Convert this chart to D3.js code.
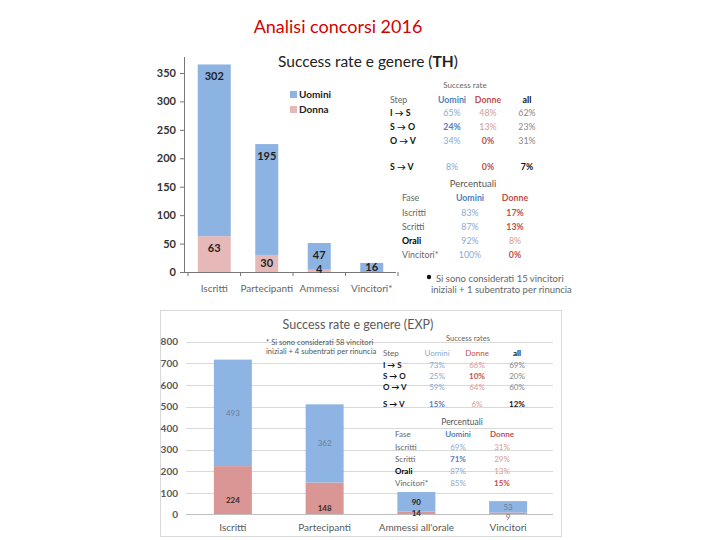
<!DOCTYPE html>
<html><head><meta charset="utf-8">
<script src="https://cdn.jsdelivr.net/npm/d3@7"></script>
<style>body{margin:0;background:#fff}svg{display:block;font-family:Lato,"Open Sans",sans-serif}</style>
</head><body><svg id="c" width="720" height="540"></svg>
<script>
// ---- data ----
const mainTitle = "Analisi concorsi 2016";
const categoriesTH = ["Iscritti", "Partecipanti", "Ammessi", "Vincitori*"];
const uominiTH = [302, 195, 47, 16];
const donneTH = [63, 30, 4, 0];
const ticksTH = [0, 50, 100, 150, 200, 250, 300, 350];
const seriesNamesTH = ["Uomini", "Donna"];

const categoriesEXP = ["Iscritti", "Partecipanti", "Ammessi all'orale", "Vincitori"];
const uominiEXP = [493, 362, 90, 53];
const donneEXP = [224, 148, 14, 9];
const ticksEXP = [0, 100, 200, 300, 400, 500, 600, 700, 800];

const steps = ["I \u2192 S", "S \u2192 O", "O \u2192 V", "S \u2192 V"];
const rateUominiTH = ["65%", "24%", "34%", "8%"];
const rateDonneTH = ["48%", "13%", "0%", "0%"];
const rateAllTH = ["62%", "23%", "31%", "7%"];
const fasi = ["Iscritti", "Scritti", "Orali", "Vincitori*"];
const percUominiTH = ["83%", "87%", "92%", "100%"];
const percDonneTH = ["17%", "13%", "8%", "0%"];
const noteTH = ["Si sono considerati 15 vincitori", "iniziali + 1 subentrato per rinuncia"];

const rateUominiEXP = ["73%", "25%", "59%", "15%"];
const rateDonneEXP = ["66%", "10%", "64%", "6%"];
const rateAllEXP = ["69%", "20%", "60%", "12%"];
const percUominiEXP = ["69%", "71%", "87%", "85%"];
const percDonneEXP = ["31%", "29%", "13%", "15%"];
const noteEXP = ["* Si sono considerati 58 vincitori", "iniziali + 4 subentrati per rinuncia"];

// ---- drawing ----
const svg = d3.select("#c");
svg.append("rect").attr("width", 720).attr("height", 540).attr("fill", "#fff");

svg.append("text").attr("x", 338).attr("y", 33).attr("text-anchor", "middle")
  .attr("font-size", 18).attr("fill", "#d40000").text(mainTitle);

// ===== Chart TH =====
const c1 = {blue: "#8db3e2", pink: "#e6b9b8"};
const y1 = d3.scaleLinear().domain([0, 350]).range([272, 73]);
const x1 = d3.scaleBand().domain(categoriesTH).range([188, 398]);
const g1 = svg.append("g");
const w1 = i => i === 0 ? 33 : 23;

const thData = categoriesTH.map((c, i) => ({c, i, u: uominiTH[i], d: donneTH[i]}));
thData.forEach(o => {
  const cx = x1(o.c) + x1.bandwidth() / 2, w = w1(o.i);
  g1.append("rect").attr("x", cx - w / 2).attr("width", w)
    .attr("y", y1(o.d)).attr("height", y1(0) - y1(o.d)).attr("fill", c1.pink);
  g1.append("rect").attr("x", cx - w / 2).attr("width", w)
    .attr("y", y1(o.d + o.u)).attr("height", y1(o.d) - y1(o.d + o.u)).attr("fill", c1.blue);
});
// axes
const ax1 = g1.append("g").attr("transform", "translate(184,0)")
  .call(d3.axisLeft(y1).tickValues(ticksTH).tickSize(4).tickPadding(4));
ax1.select(".domain").remove();
ax1.selectAll("line").attr("stroke", "#777");
ax1.selectAll("text").attr("font-size", 11).attr("font-weight", "bold").attr("fill", "#333")
  .attr("font-family", "Lato");
g1.append("line").attr("x1", 184.5).attr("x2", 184.5).attr("y1", 57).attr("y2", 272).attr("stroke", "#777");
const bx1 = g1.append("g").attr("transform", "translate(0,272)")
  .call(d3.axisBottom(x1).tickSize(0).tickPadding(13));
bx1.select(".domain").attr("stroke", "#777").attr("d", "M184,0.5H396");
bx1.selectAll("text").attr("font-size", 10).attr("fill", "#666").attr("font-family", "Lato");
categoriesTH.concat([null]).forEach((c, i) => {
  const xx = i < categoriesTH.length ? x1(c) : x1.range()[1];
  g1.append("line").attr("x1", xx).attr("x2", xx).attr("y1", 272).attr("y2", 276).attr("stroke", "#777");
});
// labels
thData.forEach(o => {
  const cx = x1(o.c) + x1.bandwidth() / 2;
  const lab = (v, base, top) => {
    if (v <= 0) return;
    const yt = y1(top), yb = y1(base);
    const yy = (yb - yt) >= 24 ? yt + 12 : Math.min((yt + yb) / 2, yb - 3);
    g1.append("text").attr("x", cx).attr("y", yy).attr("dy", "0.35em").attr("text-anchor", "middle")
      .attr("font-size", 11).attr("font-weight", "bold").attr("fill", "#222").text(v);
  };
  lab(o.u, o.d, o.d + o.u);
  lab(o.d, 0, o.d);
});
// title
const t1 = svg.append("text").attr("x", 278).attr("y", 67).attr("font-size", 15.5).attr("fill", "#222");
t1.append("tspan").text("Success rate e genere (");
t1.append("tspan").attr("font-weight", "bold").text("TH");
t1.append("tspan").text(")");
// legend
[c1.blue, c1.pink].forEach((col, i) => {
  svg.append("rect").attr("x", 290).attr("y", 91 + i * 15).attr("width", 7).attr("height", 7).attr("fill", col);
  svg.append("text").attr("x", 299).attr("y", 98 + i * 15).attr("font-size", 10).attr("font-weight", "bold")
    .attr("fill", "#222").text(seriesNamesTH[i]);
});

// table helper
function cell(x, y, txt, opt = {}) {
  svg.append("text").attr("x", x).attr("y", y).attr("dy", "0.35em")
    .attr("text-anchor", opt.anchor || "middle").attr("font-size", opt.size || 8)
    .attr("font-weight", opt.bold ? "bold" : "normal").attr("fill", opt.fill || "#777").text(txt);
}
const UB = "#4f81bd", UL = "#8ea9cf", DB = "#c0504d", DL = "#d49a98";

// Table TH
const s1 = 8.8;
cell(465, 85, "Success rate", {size: 8, fill: "#666"});
cell(390, 100, "Step", {anchor: "start", fill: "#666", size: s1});
cell(452, 100, "Uomini", {bold: true, fill: UB, size: s1});
cell(488, 100, "Donne", {bold: true, fill: DB, size: s1});
cell(527, 100, "all", {bold: true, fill: "#111", size: s1});
const rowY1 = [113, 127, 141, 167];
const emphTH = {"1-u": 1, "2-d": 1, "3-d": 1, "3-a": 1};
steps.forEach((s, i) => {
  cell(390, rowY1[i], s, {anchor: "start", bold: true, fill: "#111", size: s1});
  cell(452, rowY1[i], rateUominiTH[i], {bold: !!emphTH[i + "-u"], fill: emphTH[i + "-u"] ? UB : UL, size: s1});
  cell(488, rowY1[i], rateDonneTH[i], {bold: !!emphTH[i + "-d"], fill: emphTH[i + "-d"] ? DB : DL, size: s1});
  cell(527, rowY1[i], rateAllTH[i], {bold: !!emphTH[i + "-a"], fill: emphTH[i + "-a"] ? "#111" : "#888", size: s1});
});
cell(473, 184, "Percentuali", {size: 9.5, fill: "#555"});
cell(402, 198, "Fase", {anchor: "start", fill: "#666", size: s1});
cell(470, 198, "Uomini", {bold: true, fill: UB, size: s1});
cell(515, 198, "Donne", {bold: true, fill: DB, size: s1});
const rowP1 = [213, 227, 241, 255];
fasi.forEach((f, i) => {
  cell(402, rowP1[i], f, {anchor: "start", bold: i === 2, fill: i === 2 ? "#000" : "#666", size: s1});
  cell(470, rowP1[i], percUominiTH[i], {fill: UL, size: s1});
  cell(515, rowP1[i], percDonneTH[i], {bold: i !== 2, fill: i !== 2 ? DB : DL, size: s1});
});
svg.append("circle").attr("cx", 429).attr("cy", 277).attr("r", 2.2).attr("fill", "#111");
cell(436, 279, noteTH[0], {anchor: "start", fill: "#666", size: 9.5});
cell(431, 290, noteTH[1], {anchor: "start", fill: "#666", size: 9.5});

// ===== Chart EXP =====
const c2 = {blue: "#8eb4e3", pink: "#d99694"};
svg.append("rect").attr("x", 160.5).attr("y", 310.5).attr("width", 401).attr("height", 226)
  .attr("fill", "#fff").attr("stroke", "#d9d9d9");
const y2 = d3.scaleLinear().domain([0, 800]).range([514.5, 341.7]);
const x2 = d3.scaleBand().domain(categoriesEXP).range([186, 553]);
const g2 = svg.append("g");
const ax2 = g2.append("g").attr("transform", "translate(186,0)")
  .call(d3.axisLeft(y2).tickValues(ticksEXP).tickSize(0).tickPadding(8));
ax2.select(".domain").remove();
ax2.selectAll("text").attr("font-size", 10).attr("font-weight", "bold").attr("fill", "#595959").attr("font-family", "Lato");
g2.selectAll(".grid").data(ticksEXP.slice(1)).join("line")
  .attr("x1", 186).attr("x2", 553).attr("y1", d => Math.round(y2(d)) + 0.5).attr("y2", d => Math.round(y2(d)) + 0.5)
  .attr("stroke", "#d9d9d9");
const cx2 = c => x2(c) + x2.bandwidth() / 2 + 1;
const bw2 = 38;
categoriesEXP.forEach((c, i) => {
  const d = donneEXP[i], u = uominiEXP[i];
  g2.append("rect").attr("x", cx2(c) - bw2 / 2).attr("width", bw2).attr("y", y2(d)).attr("height", y2(0) - y2(d)).attr("fill", c2.pink);
  g2.append("rect").attr("x", cx2(c) - bw2 / 2).attr("width", bw2).attr("y", y2(d + u)).attr("height", y2(d) - y2(d + u)).attr("fill", c2.blue);
});
g2.append("line").attr("x1", 186).attr("x2", 553).attr("y1", 514.5).attr("y2", 514.5).attr("stroke", "#bfbfbf");
const bx2 = g2.append("g").attr("transform", "translate(1,514.5)").call(d3.axisBottom(x2).tickSize(0).tickPadding(9));
bx2.select(".domain").remove();
bx2.selectAll("text").attr("font-size", 10).attr("fill", "#595959").attr("font-family", "Lato");
// labels
categoriesEXP.forEach((c, i) => {
  const d = donneEXP[i], u = uominiEXP[i];
  g2.append("text").attr("x", cx2(c)).attr("y", (y2(d) + y2(d + u)) / 2).attr("dy", "0.35em")
    .attr("text-anchor", "middle").attr("font-size", 8).attr("font-weight", i === 2 ? "bold" : "normal")
    .attr("fill", i === 2 ? "#222" : "#6d7f98").text(u);
  const py = d < 12 ? y2(0) + 2.5 : Math.min((y2(0) + y2(d)) / 2 + 10, y2(0) - 1);
  g2.append("text").attr("x", cx2(c)).attr("y", py).attr("dy", "0.35em")
    .attr("text-anchor", "middle").attr("font-size", 8).attr("font-weight", i < 3 ? "bold" : "normal")
    .attr("fill", i < 3 ? "#3a2a2a" : "#8a6a6a").text(d);
});
svg.append("text").attr("x", 358).attr("y", 329).attr("text-anchor", "middle").attr("font-size", 12.5)
  .attr("fill", "#595959").text("Success rate e genere (EXP)");
cell(266, 342, noteEXP[0], {anchor: "start", size: 7.6, fill: "#555"});
cell(266, 351, noteEXP[1], {anchor: "start", size: 7.6, fill: "#555"});

// Table EXP
cell(468, 338, "Success rates", {size: 7.5, fill: "#666"});
cell(383, 353, "Step", {anchor: "start", fill: "#666"});
cell(437, 353, "Uomini", {fill: UL});
cell(477, 353, "Donne", {fill: DB});
cell(517, 353, "all", {bold: true, fill: "#111"});
const rowY2 = [365, 376, 387, 404];
const emphEXP = {"1-d": 1, "3-u": 1, "3-a": 1};
steps.forEach((s, i) => {
  cell(383, rowY2[i], s, {anchor: "start", bold: true, fill: "#111"});
  cell(437, rowY2[i], rateUominiEXP[i], {bold: !!emphEXP[i + "-u"], fill: emphEXP[i + "-u"] ? UB : UL});
  cell(477, rowY2[i], rateDonneEXP[i], {bold: !!emphEXP[i + "-d"], fill: emphEXP[i + "-d"] ? DB : DL});
  cell(517, rowY2[i], rateAllEXP[i], {bold: !!emphEXP[i + "-a"], fill: emphEXP[i + "-a"] ? "#111" : "#888"});
});
cell(462, 422, "Percentuali", {size: 8.5, fill: "#555"});
cell(395, 434, "Fase", {anchor: "start", fill: "#666"});
cell(458, 434, "Uomini", {bold: true, fill: UB});
cell(502, 434, "Donne", {bold: true, fill: DB});
const rowP2 = [447, 459, 471, 483];
fasi.forEach((f, i) => {
  cell(395, rowP2[i], f, {anchor: "start", bold: i === 2, fill: i === 2 ? "#000" : "#666"});
  cell(458, rowP2[i], percUominiEXP[i], {bold: i === 1, fill: i === 1 ? UB : UL});
  cell(502, rowP2[i], percDonneEXP[i], {bold: i === 3, fill: i === 3 ? DB : DL});
});
</script></body></html>
